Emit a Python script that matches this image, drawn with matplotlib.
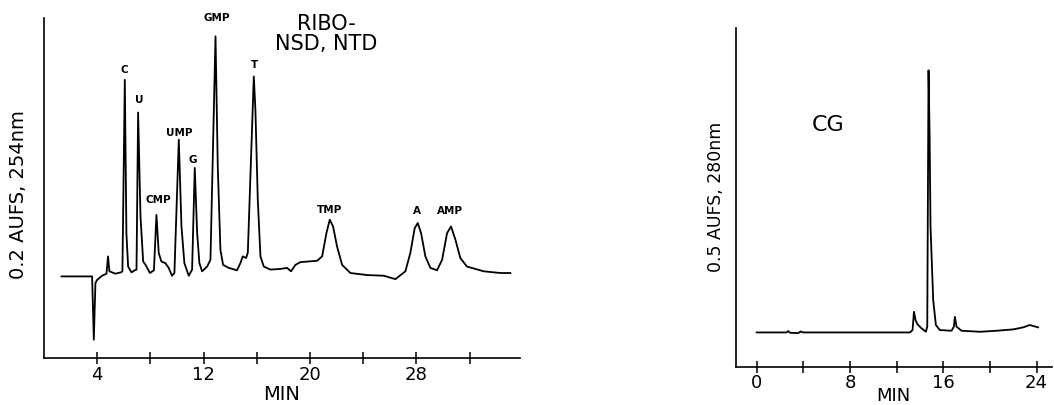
import matplotlib
matplotlib.use("Agg")
import matplotlib.pyplot as plt

# Left chromatogram: ribonucleosides / nucleotides, 254 nm
ribo_time = [1.32, 3.62, 3.75, 3.87, 4.0, 4.37, 4.70, 4.82, 4.92, 5.37, 5.80,
             5.90, 6.08, 6.20, 6.33, 6.58, 6.83,
             6.96, 7.08, 7.26, 7.46, 7.64, 7.97, 8.27,
             8.46, 8.63, 8.83, 9.13, 9.38, 9.63, 9.81,
             10.14, 10.34, 10.56, 10.89, 11.14,
             11.34, 11.52, 11.69, 11.89, 12.27, 12.52,
             12.90, 13.07, 13.27, 13.47, 13.90, 14.52, 14.77, 14.95, 15.20, 15.33,
             15.78, 15.90, 16.08, 16.28, 16.53, 17.03, 17.78, 18.28, 18.58, 18.91,
             19.29, 20.54, 20.92, 21.24, 21.49, 21.74, 22.04, 22.42, 23.04, 24.30,
             25.55, 26.43, 27.18, 27.55, 27.88, 28.11, 28.36, 28.68, 29.06, 29.56,
             29.94, 30.31, 30.61, 30.94, 31.31, 31.81, 33.07, 34.32, 35.07]
ribo_abs = [0.0, 0.0, -0.186, -0.02, -0.01, 0.002, 0.008, 0.059, 0.015, 0.008, 0.012,
            0.015, 0.578, 0.127, 0.029, 0.012, 0.018,
            0.02, 0.482, 0.176, 0.044, 0.034, 0.01, 0.018,
            0.181, 0.069, 0.044, 0.039, 0.025, 0.002, 0.01,
            0.402, 0.147, 0.039, 0.002, 0.02,
            0.319, 0.127, 0.039, 0.015, 0.029, 0.049,
            0.706, 0.324, 0.078, 0.034, 0.025, 0.018, 0.039, 0.059, 0.054, 0.07,
            0.588, 0.49, 0.225, 0.059, 0.029, 0.02, 0.022, 0.025, 0.015, 0.034,
            0.042, 0.046, 0.059, 0.127, 0.167, 0.147, 0.088, 0.034, 0.01, 0.004,
            0.002, -0.008, 0.015, 0.069, 0.142, 0.157, 0.127, 0.059, 0.025, 0.018,
            0.049, 0.127, 0.147, 0.108, 0.054, 0.029, 0.015, 0.01, 0.01]

peak_names = ["C", "U", "CMP", "UMP", "G", "GMP", "T", "TMP", "A", "AMP"]
peak_time = [6.08, 7.2, 8.58, 10.14, 11.2, 12.97, 15.83, 21.49, 28.06, 30.56]
peak_label_y = [0.608, 0.52, 0.225, 0.422, 0.343, 0.76, 0.623, 0.194, 0.191, 0.191]

# Right chromatogram: CG, 280 nm
cg_time = [0.0, 2.57, 2.71, 2.86, 3.57, 3.77, 4.0, 13.14, 13.37, 13.49, 13.63,
           13.77, 14.14, 14.51, 14.63, 14.74, 14.83, 14.91, 15.14, 15.37, 15.71,
           16.71, 16.91, 17.0, 17.14, 17.57, 19.14, 20.57, 22.0, 22.86, 23.43,
           23.71, 24.14]
cg_abs = [0.0, 0.0, 0.004, -0.001, -0.002, 0.003, 0.0, 0.0, 0.007, 0.061, 0.036,
          0.025, 0.012, 0.002, 0.017, 0.773, 0.588, 0.312, 0.095, 0.022, 0.007,
          0.005, 0.017, 0.046, 0.017, 0.005, 0.002, 0.005, 0.009, 0.015, 0.022,
          0.019, 0.015]

left_ticks = [4, 8, 12, 16, 20, 24, 28, 32]
left_ticklabels = ["4", "", "12", "", "20", "", "28", ""]
right_ticks = [0, 4, 8, 12, 16, 20, 24]
right_ticklabels = ["0", "", "8", "", "16", "", "24"]

plt.rcParams["font.family"] = "DejaVu Sans"

fig = plt.figure(figsize=(10.54, 4.05), dpi=100)
ax1 = fig.add_axes([0.0417, 0.116, 0.4517, 0.8396])
ax2 = fig.add_axes([0.6983, 0.0946, 0.2995, 0.8363])

ax1.plot(ribo_time, ribo_abs, color="black", lw=1.3)
ax1.set_xlim(0, 35.8)
ax1.set_ylim(-0.24, 0.76)
ax1.set_xticks(left_ticks)
ax1.set_xticklabels(left_ticklabels)
for name, t, y in zip(peak_names, peak_time, peak_label_y):
    ax1.text(t, y, name, fontsize=7.5, fontweight="bold", ha="center", va="center",
             clip_on=False)
ax1.text(21.2, 0.713, "RIBO-\nNSD, NTD", fontsize=15, ha="center", va="center",
         linespacing=1.0)
ax1.set_xlabel("MIN", fontsize=14, labelpad=1)
ax1.set_ylabel("0.2 AUFS, 254nm", fontsize=14)
ax1.yaxis.set_label_coords(-0.033, 0.48)

ax2.plot(cg_time, cg_abs, color="black", lw=1.3)
ax2.set_xlim(-1.77, 25.3)
ax2.set_ylim(-0.101, 0.898)
ax2.set_xticks(right_ticks)
ax2.set_xticklabels(right_ticklabels)
ax2.text(6.14, 0.612, "CG", fontsize=16, ha="center", va="center")
ax2.set_xlabel("MIN", fontsize=13, labelpad=-4)
ax2.set_ylabel("0.5 AUFS, 280nm", fontsize=12.5)
ax2.yaxis.set_label_coords(-0.035, 0.5)

for ax in (ax1, ax2):
    ax.spines["top"].set_visible(False)
    ax.spines["right"].set_visible(False)
    ax.spines["left"].set_linewidth(1.2)
    ax.spines["bottom"].set_linewidth(1.2)
    ax.set_yticks([])
    ax.tick_params(axis="x", direction="inout", length=8, width=1.1,
                   labelsize=13, pad=1.5)

fig.savefig("out.png", dpi=100)
